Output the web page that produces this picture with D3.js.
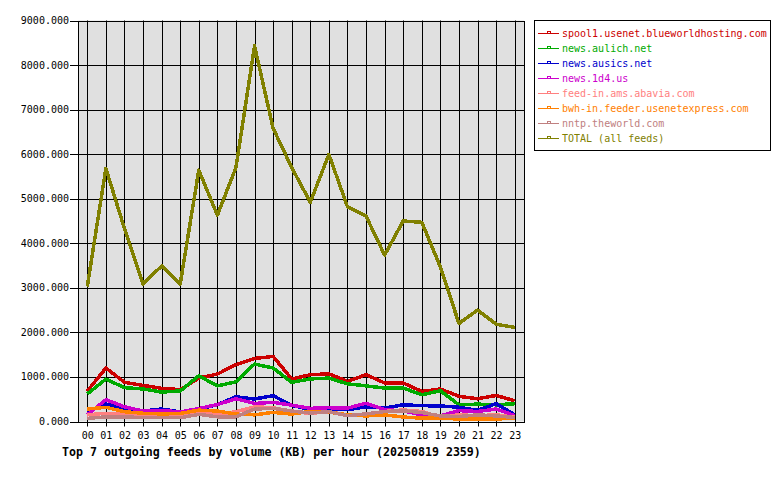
<!DOCTYPE html>
<html>
<head>
<meta charset="utf-8">
<script src="https://cdn.jsdelivr.net/npm/d3@7"></script>
<style>
    body { margin: 0; background: #fff; }
    text { font-family: "DejaVu Sans Mono", monospace; }
</style>
</head>
<body>
<div id="chart"></div>
<script>
var hours = ["00", "01", "02", "03", "04", "05", "06", "07", "08", "09", "10", "11",
    "12", "13", "14", "15", "16", "17", "18", "19", "20", "21", "22", "23"];

var feedNames = ["spool1.usenet.blueworldhosting.com", "news.aulich.net", "news.ausics.net",
    "news.1d4.us", "feed-in.ams.abavia.com", "bwh-in.feeder.usenetexpress.com",
    "nntp.theworld.com", "TOTAL (all feeds)"];

var spool1 = [680, 1200, 880, 810, 745, 715, 975, 1065, 1275, 1415, 1460, 955, 1050, 1070, 900, 1050, 865, 865, 675, 730, 565, 510, 585, 465];
var aulich = [620, 950, 760, 730, 660, 685, 1025, 800, 890, 1290, 1200, 880, 955, 975, 845, 800, 750, 750, 600, 690, 375, 390, 375, 400];
var ausics = [230, 390, 290, 235, 280, 215, 270, 380, 555, 505, 580, 360, 270, 290, 265, 330, 300, 375, 355, 350, 320, 250, 400, 150];
var news1d4 = [150, 490, 330, 235, 250, 215, 290, 380, 510, 405, 430, 365, 295, 310, 300, 410, 265, 240, 145, 125, 245, 225, 280, 135];
var abavia = [150, 185, 160, 150, 150, 155, 205, 160, 220, 330, 310, 220, 185, 215, 150, 140, 225, 260, 225, 100, 150, 130, 150, 95];
var usenetexpress = [280, 320, 220, 185, 170, 180, 255, 235, 165, 150, 205, 165, 230, 210, 150, 125, 150, 100, 75, 75, 55, 60, 55, 75];
var theworld = [70, 105, 105, 85, 85, 85, 160, 105, 105, 280, 295, 235, 190, 220, 130, 170, 225, 240, 200, 125, 110, 150, 125, 90];
var total = [3030, 5680, 4330, 3085, 3490, 3085, 5640, 4630, 5700, 8430, 6580, 5700, 4920, 5995, 4820, 4610, 3735, 4500, 4470, 3470, 2200, 2500, 2185, 2110];

var yTicks = [0, 1000, 2000, 3000, 4000, 5000, 6000, 7000, 8000, 9000];

var feedColors = ["#cc0000", "#00aa00", "#0000cc", "#cc00cc", "#ff8080", "#ff8000", "#c08080", "#808000"];
var feedValues = [spool1, aulich, ausics, news1d4, abavia, usenetexpress, theworld, total];

var svg = d3.select("#chart").append("svg")
    .attr("width", 780)
    .attr("height", 480);

var plotLeft = 78, plotRight = 524, plotTop = 20.5, plotBottom = 421.5;

var xScale = d3.scaleBand()
    .domain(hours)
    .range([plotLeft, plotRight]);

var yScale = d3.scaleLinear()
    .domain([0, 9000])
    .range([plotBottom, plotTop]);

function xMid(h) {
    return xScale(h) + xScale.bandwidth() / 2;
}

// plot background
svg.append("rect")
    .attr("x", plotLeft)
    .attr("y", plotTop)
    .attr("width", plotRight - plotLeft)
    .attr("height", plotBottom - plotTop)
    .attr("fill", "#e0e0e0");

// grid
svg.append("g")
    .selectAll("line")
    .data(yTicks)
    .enter().append("line")
    .attr("x1", plotLeft - 8)
    .attr("x2", plotRight)
    .attr("y1", function (d) { return Math.round(yScale(d)) + 0.5; })
    .attr("y2", function (d) { return Math.round(yScale(d)) + 0.5; })
    .attr("stroke", "#000");

svg.append("g")
    .selectAll("line")
    .data(hours)
    .enter().append("line")
    .attr("x1", function (d) { return Math.round(xMid(d)) + 0.5; })
    .attr("x2", function (d) { return Math.round(xMid(d)) + 0.5; })
    .attr("y1", plotTop)
    .attr("y2", plotBottom + 5)
    .attr("stroke", "#000");

svg.append("rect")
    .attr("x", plotLeft + 0.5)
    .attr("y", Math.round(plotTop) + 0.5)
    .attr("width", plotRight - plotLeft)
    .attr("height", Math.round(plotBottom) - Math.round(plotTop))
    .attr("fill", "none")
    .attr("stroke", "#000");

// axis labels
svg.append("g")
    .selectAll("text")
    .data(yTicks)
    .enter().append("text")
    .attr("x", 69)
    .attr("y", function (d) { return yScale(d); })
    .attr("dy", "0.35em")
    .attr("text-anchor", "end")
    .attr("font-size", "10px")
    .attr("fill", "#000")
    .text(function (d) { return d3.format(".3f")(d); });

svg.append("g")
    .selectAll("text")
    .data(hours)
    .enter().append("text")
    .attr("x", function (d) { return xMid(d) + 0.5; })
    .attr("y", 435)
    .attr("dy", "0.35em")
    .attr("text-anchor", "middle")
    .attr("font-size", "10px")
    .attr("fill", "#000")
    .text(function (d) { return d; });

// lines
var lineGenerator = d3.line()
    .x(function (d, i) { return xMid(hours[i]); })
    .y(function (d) { return yScale(d); });

svg.append("g")
    .selectAll("path")
    .data(feedValues)
    .enter().append("path")
    .attr("fill", "none")
    .attr("stroke", function (d, i) { return feedColors[i]; })
    .attr("stroke-width", 3.5)
    .attr("stroke-linejoin", "round")
    .attr("shape-rendering", "crispEdges")
    .attr("d", function (d) { return lineGenerator(d); });

// title
svg.append("text")
    .attr("x", 62)
    .attr("y", 452)
    .attr("dy", "0.35em")
    .attr("font-size", "11.6px")
    .attr("font-weight", "bold")
    .attr("fill", "#000")
    .text("Top 7 outgoing feeds by volume (KB) per hour (20250819 2359)");

// legend
svg.append("rect")
    .attr("x", 534.5)
    .attr("y", 20.5)
    .attr("width", 236)
    .attr("height", 130)
    .attr("fill", "#fff")
    .attr("stroke", "#000");

var legend = svg.selectAll("g.legend")
    .data(feedNames)
    .enter().append("g")
    .attr("class", "legend")
    .attr("transform", function (d, i) { return "translate(538," + (33.5 + i * 15) + ")"; });

legend.append("line")
    .attr("x1", 0)
    .attr("x2", 21)
    .attr("stroke", function (d, i) { return feedColors[i]; });

legend.append("rect")
    .attr("x", 9.5)
    .attr("y", -2)
    .attr("width", 3)
    .attr("height", 2)
    .attr("fill", "#fff")
    .attr("stroke", function (d, i) { return feedColors[i]; });

legend.append("text")
    .attr("x", 24)
    .attr("dy", "0.35em")
    .attr("font-size", "10px")
    .attr("fill", function (d, i) { return feedColors[i]; })
    .text(function (d) { return d; });
</script>
</body>
</html>
